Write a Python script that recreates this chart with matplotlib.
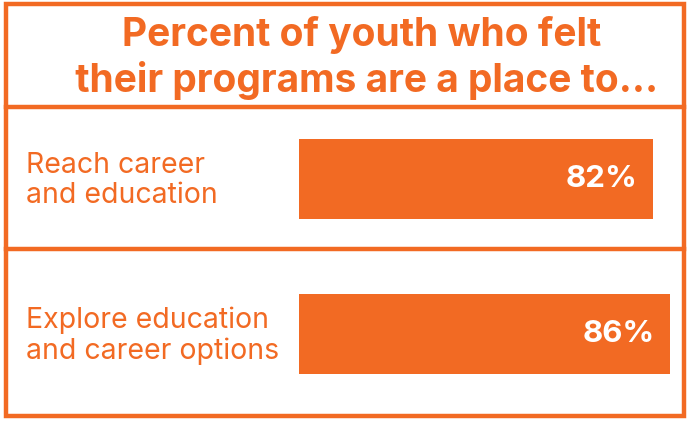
import matplotlib.pyplot as plt
from matplotlib.patches import Rectangle

# data
categories = ['Reach career\nand education', 'Explore education\nand career options']
values = [82, 86]
title = 'Percent of youth who felt\n their programs are a place to...'

ORANGE = '#F26A23'
W, H = 687, 421

plt.rcParams['font.family'] = ['Inter', 'DejaVu Sans']

fig = plt.figure(figsize=(W / 100, H / 100), dpi=100)


def fx(px):
    return px / W


def fy(py):
    return 1 - py / H


# outer frame + dividers
fig.patches.append(Rectangle((fx(5.5), fy(415.5)), fx(684) - fx(5.5), fy(4) - fy(415.5),
                             transform=fig.transFigure, fill=False,
                             edgecolor=ORANGE, linewidth=3.2))
for py in (107, 249):
    fig.add_artist(plt.Line2D([fx(5.5), fx(684)], [fy(py), fy(py)],
                              transform=fig.transFigure, color=ORANGE, linewidth=3.2))

fig.text(fx(362), fy(58), title, ha='center', va='center', color=ORANGE,
         fontsize=28, fontweight='bold', linespacing=1.2)

# bars axes: 0% at x=299, 4.315 px per percent
x0, px_per = 299, 4.315
ax = fig.add_axes([fx(x0), fy(415), fx(684) - fx(x0), fy(107) - fy(415)])
ax.set_xlim(0, (684 - x0) / px_per)
top = (179 - 107) / 155
ax.set_ylim(-top + (415 - 107) / 155, -top)
ax.axis('off')

ypos = list(range(len(values)))
ax.barh(ypos, values, height=80 / 155, color=ORANGE)
for y, v, lab in zip(ypos, values, categories):
    ax.text(v - 3.6, y, f'{v}%', ha='right', va='center', color='white',
            fontsize=22.5, fontweight='bold')
    fig.text(fx(26), ax.transData.transform((0, y))[1] / H - 0.004, lab,
             ha='left', va='center', color=ORANGE, fontsize=20.5, linespacing=1.14)

fig.savefig('out.png', dpi=100)
